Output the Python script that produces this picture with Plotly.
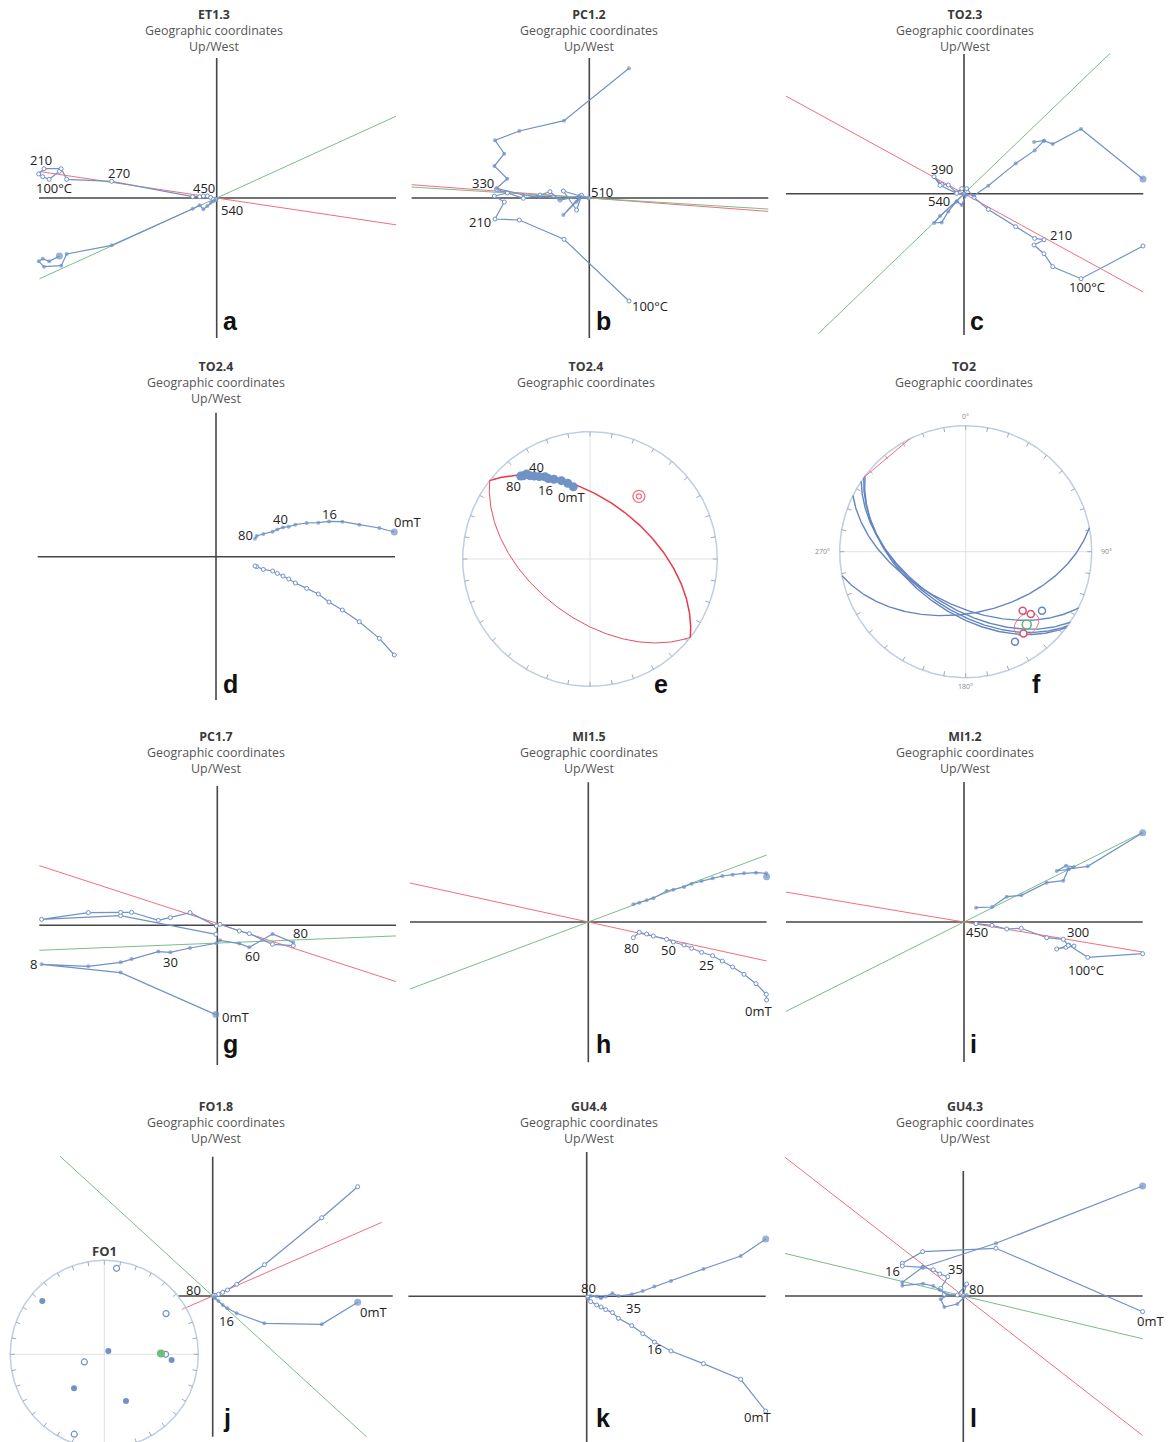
import numpy as np
import plotly.graph_objects as go

W, H = 1170, 1442
FONT = "Open Sans, DejaVu Sans, sans-serif"
BLUE = "rgb(113,146,198)"
RED = "rgb(242,110,124)"
GREEN = "rgb(122,188,136)"
AXIS = "rgb(70,70,70)"
GC_RED = "rgb(232,58,70)"
GC_BLUE = "rgb(100,134,192)"

# ---------------------------------------------------------------------------
# Zijderveld data: one x value per demagnetisation step, shared by the
# horizontal projection (solid symbols) and the vertical projection (open).
# ---------------------------------------------------------------------------

# ET1.3 (thermal)
et13_x = [-157.3, -167.5, -174.0, -178.0, -172.7, -155.5, -150.0, -105.0, -24.0, -17.0, -13.3, -9.3, -6.0, -3.3, -0.7]
et13_hor = [-58.0, -63.3, -60.7, -63.3, -68.7, -67.7, -56.0, -47.3, -10.7, -7.3, -11.3, -8.0, -4.7, -3.3, -1.3]
et13_ver = [26.7, 18.7, 21.3, 24.0, 29.3, 29.3, 18.7, 16.7, 1.3, 1.3, 2.0, 2.0, 0.5, -1.3, -1.3]
et13_fit_ver = (-0.1495, 0.0, (-177.3, 179.3))
et13_fit_hor = (0.456, 0.0, (-177.3, 179.3))

# PC1.2 (thermal)
pc12_x = [39.7, -25.3, -70.0, -94.3, -85.0, -95.0, -82.0, -92.7, -66.0, -49.3, -39.3, -29.3, -9.3, -26.0, -12.7, -7.7, -0.7]
pc12_hor = [129.7, 77.3, 67.0, 57.7, 44.3, 32.0, 19.3, 9.7, 3.0, 1.3, 1.3, -1.3, 1.3, -17.0, -3.7, 0.7, 0.0]
pc12_ver = [-103.0, -41.3, -22.0, -21.0, -4.0, 2.0, 5.0, 8.7, -0.3, 3.0, 6.3, -2.0, 2.0, 7.0, -12.0, 2.7, 0.0]
pc12_fit_ver = (-0.0748, 0.0, (-177.7, 179.0))
pc12_fit_hor = (-0.0617, 0.0, (-177.7, 179.0))

# TO2.3 (thermal)
to23_x = [179.0, 117.0, 88.7, 80.0, 70.0, 80.0, 70.7, 51.7, 24.3, 10.0, 2.7, -2.3, -7.3, -15.7, -22.3, -30.0, -24.0, -7.3, 0.0]
to23_hor = [14.7, 64.7, 49.7, 53.0, 51.7, 53.0, 43.3, 30.3, 8.0, -1.7, -0.7, -11.3, -7.7, -17.7, -28.7, -29.3, -22.3, -7.7, -0.5]
to23_ver = [-52.3, -85.0, -73.0, -60.0, -51.3, -46.0, -44.7, -33.0, -15.7, -3.7, 5.0, 5.0, 1.0, 8.7, 9.3, 17.0, 8.3, 0.3, -0.3]
to23_fit_ver = (-0.5485, 0.0, (-178.0, 179.3))
to23_fit_hor = (0.961, 0.0, (-145.7, 146.0))

# TO2.4 (alternating field)
to24_x = [178.3, 163.3, 143.3, 126.3, 113.0, 102.3, 90.7, 79.3, 72.7, 67.0, 61.3, 56.7, 47.3, 40.7, 39.0]
to24_hor = [24.7, 28.7, 32.0, 35.0, 35.3, 34.0, 33.7, 32.0, 30.0, 29.3, 27.3, 25.0, 22.7, 20.7, 18.0]
to24_ver = [-98.3, -81.7, -65.0, -53.3, -45.3, -37.3, -31.7, -26.3, -22.3, -19.3, -16.7, -14.3, -12.7, -10.0, -9.3]

# PC1.7 (alternating field)
pc17_x = [-1.5, -96.7, -175.7, -129.0, -96.7, -85.7, -59.0, -47.0, -27.3, -1.0, 2.7, 22.0, 32.0, 55.3, 76.0]
pc17_hor = [-89.3, -47.3, -39.0, -41.0, -37.0, -33.7, -26.3, -27.0, -22.7, -18.0, -15.0, -18.3, -22.0, -8.7, -17.3]
pc17_ver = [-9.0, 9.7, 6.0, 12.7, 13.0, 13.0, 5.0, 7.7, 12.7, -0.7, 1.0, -5.7, -8.3, -19.0, -20.3]
pc17_fit_ver = (-0.325, 1.8, (-178.0, 178.7))
pc17_fit_hor = (0.0402, -17.8, (-178.0, 178.7))

# MI1.5 (alternating field)
mi15_x = [178.3, 178.0, 167.7, 155.7, 144.3, 134.0, 124.3, 113.3, 103.3, 95.7, 85.0, 78.3, 65.0, 58.3, 51.0, 45.0]
mi15_hor = [45.3, 48.7, 49.3, 48.7, 47.3, 46.0, 43.7, 41.0, 38.3, 35.0, 32.3, 31.0, 23.7, 21.7, 19.3, 17.7]
mi15_ver = [-78.0, -72.3, -61.7, -52.3, -45.0, -39.0, -33.7, -30.3, -26.3, -23.0, -20.0, -17.3, -14.0, -12.0, -10.3, -15.7]
mi15_fit_ver = (-0.2187, 0.0, (-178.3, 178.3))
mi15_fit_hor = (0.3757, 0.0, (-178.3, 178.3))

# MI1.2 (thermal)
mi12_x = [178.7, 123.7, 104.7, 110.0, 102.0, 92.7, 104.3, 99.3, 82.7, 57.3, 42.7, 28.0, 12.0]
mi12_hor = [89.3, 55.7, 53.0, 55.0, 56.3, 51.0, 52.7, 41.3, 39.3, 26.7, 25.3, 15.0, 14.3]
mi12_ver = [-31.7, -35.3, -23.0, -24.0, -25.3, -27.0, -23.5, -17.3, -15.7, -6.3, -7.0, -3.3, -1.7]
mi12_fit_ver = (-0.168, 0.0, (-178.0, 178.7))
mi12_fit_hor = (0.502, 0.0, (-178.0, 178.7))

# FO1.8 (alternating field)
fo18_x = [145.0, 109.0, 51.7, 24.0, 14.7, 10.0, 5.7, 2.3, 0.7]
fo18_hor = [-6.3, -28.3, -27.3, -17.3, -12.3, -9.0, -5.0, -2.3, -0.7]
fo18_ver = [109.3, 78.3, 31.3, 11.7, 6.0, 3.7, 1.7, 0.7, 0.3]
fo18_fit_ver = (0.4356, 0.0, (-27.7, 169.0))
fo18_fit_hor = (-0.915, 0.0, (-152.7, 154.0))

# GU4.4 (alternating field)
gu44_x = [179.0, 154.0, 116.7, 84.3, 67.7, 56.0, 45.0, 31.7, 25.7, 19.0, 14.3, 10.0, 4.0, 1.0]
gu44_hor = [57.3, 40.3, 27.3, 15.3, 9.7, 5.3, 2.0, 0.3, 3.0, -0.3, -2.0, -0.3, 0.3, -2.7]
gu44_ver = [-114.7, -83.0, -67.3, -54.7, -45.7, -37.3, -29.3, -22.0, -16.3, -13.3, -10.7, -8.7, -5.3, -0.7]

# GU4.3 (alternating field)
gu43_x = [179.3, 32.7, -40.7, -61.0, -61.0, -40.3, -30.0, -23.5, -15.5, -22.5, -19.0, -6.0, 3.3, 0.0]
gu43_hor = [110.0, 52.7, 28.7, 13.7, 10.3, 12.3, 10.0, 6.0, 1.0, -3.3, -11.0, -8.0, 1.0, -0.7]
gu43_ver = [-15.7, 47.7, 44.3, 32.7, 30.0, 28.7, 26.3, 22.0, 19.3, 7.7, 1.7, 1.0, 12.0, 0.3]
gu43_fit_ver = (-0.778, 0.0, (-178.3, 179.3))
gu43_fit_hor = (-0.2386, 0.0, (-178.3, 179.3))

# ---------------------------------------------------------------------------
# Directional data (declination, inclination in degrees; negative = upper)
# ---------------------------------------------------------------------------
to24_dir_dec = [320.1, 321.3, 323.3, 324.2, 326.1, 328.4, 331.3, 332.6, 335.7, 339.9, 343.6, 347.0]
to24_dir_inc = [16.2, 17.3, 17.8, 20.4, 22.6, 25.0, 27.2, 29.6, 31.8, 34.8, 38.0, 41.4]
to24_gc_pole = (38.0, -37.6)

to2_gc_pole_dec = [34.0, 36.0, 37.0, 26.5, 349.0]
to2_gc_pole_inc = [36.0, 37.5, 39.0, 35.0, 40.5]
to2_mean = (140.0, -25.6)
to2_a95 = 7.5
to2_red_dec = [136.0, 133.8, 144.8]
to2_red_inc = [-35.2, -29.2, -21.6]
to2_blue_dec = [127.8, 151.3]
to2_blue_inc = [-24.4, -19.6]
to2_red_chord_dec = [306.2, 333.8]
to2_red_chord_inc = [0.0, 0.0]

fo1_dec = [8.1, 310.7, 56.6, 50.5, 90.0, 94.8, 249.0, 221.7, 155.1, 200.6]
fo1_inc = [-8.4, 14.1, -22.4, 85.5, -35.1, 28.9, -71.5, 50.0, 44.4, -10.1]
fo1_mean = (89.3, 39.5)

# ---------------------------------------------------------------------------
# helpers
# ---------------------------------------------------------------------------
fig = go.Figure()
_axis_no = [0]


def add_axes(cx, cy, scale, xr, yr):
    """Create an x/y axis pair whose unit maps to `scale` pixels, origin at (cx, cy)."""
    _axis_no[0] += 1
    n = _axis_no[0]
    key = "" if n == 1 else str(n)
    x0 = max(0.0, (cx + xr[0] * scale) / W)
    x1 = min(1.0, (cx + xr[1] * scale) / W)
    y0 = max(0.0, 1 - (cy - yr[0] * scale) / H)
    y1 = min(1.0, 1 - (cy - yr[1] * scale) / H)
    common = dict(visible=False, showgrid=False, zeroline=False, fixedrange=True)
    fig.update_layout(**{
        "xaxis" + key: dict(domain=[x0, x1], range=list(xr), anchor="y" + key, **common),
        "yaxis" + key: dict(domain=[y0, y1], range=list(yr), anchor="x" + key, **common),
    })
    return "x" + key, "y" + key


def line(xa, ya, x, y, color, width, dash=None):
    fig.add_trace(go.Scatter(x=list(x), y=list(y), mode="lines", xaxis=xa, yaxis=ya,
                             line=dict(color=color, width=width, dash=dash),
                             hoverinfo="skip"))


def paper_text(x, y, s, size=13, color="#333", bold=False, xanchor="center",
               yanchor="middle", family=FONT):
    fig.add_annotation(x=x / W, y=1 - y / H, xref="paper", yref="paper",
                       text=f"<b>{s}</b>" if bold else s, showarrow=False,
                       xanchor=xanchor, yanchor=yanchor,
                       font=dict(size=size, color=color, family=family))


def axis_text(xa, ya, x, y, s, size=13, color="#222"):
    fig.add_annotation(x=x, y=y, xref=xa, yref=ya, text=s, showarrow=False,
                       xanchor="center", yanchor="middle",
                       font=dict(size=size, color=color, family=FONT))


def draw_zijderveld(origin, arms, xs, hor, ver, fits, labels, big_first=True):
    cx, cy = origin
    L, R, U, D = arms
    xa, ya = add_axes(cx, cy, 1.0, (-196, 200), (max(-152, -(H - cy)), 152))
    line(xa, ya, [-L, R], [0, 0], AXIS, 1.6)
    line(xa, ya, [0, 0], [-D, U], AXIS, 1.6)
    for fit, color in fits:
        slope, icpt, xr = fit
        xx = np.array(xr)
        line(xa, ya, xx, icpt + slope * xx, color, 1.0)
    n = len(xs)
    sizes = [7 if (i == 0 and big_first) else 4 for i in range(n)]
    fig.add_trace(go.Scatter(x=xs, y=ver, mode="lines+markers", xaxis=xa, yaxis=ya,
                             line=dict(color=BLUE, width=1.2),
                             marker=dict(size=4, color="white", line=dict(color=BLUE, width=1)),
                             hoverinfo="skip"))
    fig.add_trace(go.Scatter(x=xs, y=hor, mode="lines+markers", xaxis=xa, yaxis=ya,
                             line=dict(color=BLUE, width=1.2),
                             marker=dict(size=sizes, color=BLUE, line=dict(width=0)),
                             hoverinfo="skip"))
    for s, x, y in labels:
        axis_text(xa, ya, x, y, s)


def dir2cart(dec, inc):
    d, i = np.radians(dec), np.radians(inc)
    return np.array([np.cos(i) * np.cos(d), np.cos(i) * np.sin(d), np.sin(i)])


def cart2dir(v):
    v = np.atleast_2d(v)
    dec = np.degrees(np.arctan2(v[:, 1], v[:, 0])) % 360
    inc = np.degrees(np.arcsin(np.clip(v[:, 2] / np.linalg.norm(v, axis=1), -1, 1)))
    return dec, inc


def equal_area(dec, inc):
    d = np.radians(np.asarray(dec, float))
    i = np.radians(np.abs(np.asarray(inc, float)))
    r = np.sqrt(2) * np.sin((np.pi / 2 - i) / 2)
    return r * np.sin(d), r * np.cos(d)


def perp_basis(v):
    ref = np.array([0.0, 0.0, 1.0]) if abs(v[2]) < 0.99 else np.array([1.0, 0.0, 0.0])
    a = np.cross(v, ref)
    a /= np.linalg.norm(a)
    b = np.cross(v, a)
    b /= np.linalg.norm(b)
    return a, b


def great_circle(pole_dec, pole_inc, n=181):
    """Lower- and upper-hemisphere halves of the plane normal to the pole."""
    p = dir2cart(pole_dec, pole_inc)
    a, b = perp_basis(p)
    if b[2] < 0:
        b = -b
    t = np.linspace(0, np.pi, n)
    lower = np.outer(np.cos(t), a) + np.outer(np.sin(t), b)
    upper = np.outer(np.cos(t), a) - np.outer(np.sin(t), b)
    return equal_area(*cart2dir(lower)), equal_area(*cart2dir(upper))


def small_circle(dec, inc, radius, n=121):
    m = dir2cart(dec, inc)
    a, b = perp_basis(m)
    t = np.linspace(0, 2 * np.pi, n)
    r = np.radians(radius)
    v = np.cos(r) * m + np.sin(r) * (np.outer(np.cos(t), a) + np.outer(np.sin(t), b))
    return equal_area(*cart2dir(v))


def stereonet(center, radius, extent=(-1.1, 1.1, -1.1, 1.1)):
    cx, cy = center
    xa, ya = add_axes(cx, cy, radius, extent[:2], extent[2:])
    line(xa, ya, [-1, 1], [0, 0], "rgb(222,224,228)", 1)
    line(xa, ya, [0, 0], [-1, 1], "rgb(222,224,228)", 1)
    t = np.linspace(0, 2 * np.pi, 361)
    line(xa, ya, np.sin(t), np.cos(t), "rgb(192,206,224)", 1.5)
    tl = 4.5 / radius
    tx, ty = [], []
    for az in range(0, 360, 10):
        s, c = np.sin(np.radians(az)), np.cos(np.radians(az))
        tx += [s, s * (1 - tl), None]
        ty += [c, c * (1 - tl), None]
    line(xa, ya, tx, ty, "rgb(160,170,186)", 1)
    return xa, ya


# ---------------------------------------------------------------------------
# titles and panel letters
# ---------------------------------------------------------------------------
titles = [
    ("ET1.3", 214, 15, True), ("PC1.2", 589, 15, True), ("TO2.3", 965, 15, True),
    ("TO2.4", 216, 367, True), ("TO2.4", 586, 367, False), ("TO2", 964, 367, False),
    ("PC1.7", 216, 737, True), ("MI1.5", 589, 737, True), ("MI1.2", 965, 737, True),
    ("FO1.8", 216, 1107, True), ("GU4.4", 589, 1107, True), ("GU4.3", 965, 1107, True),
]
for name, x, y, updown in titles:
    block = (f"<span style='color:#3a3a3a'><b>{name}</b></span><br>"
             "<span style='color:#555'>Geographic coordinates</span>")
    if updown:
        block += "<br><span style='color:#555'>Up/West</span>"
    fig.add_annotation(x=x / W, y=1 - (y - 10) / H, xref="paper", yref="paper",
                       text=block, showarrow=False, xanchor="center", yanchor="top",
                       align="center", borderpad=0,
                       font=dict(size=12.4, family=FONT))

letters = [("a", 221, 321), ("b", 594, 321), ("c", 968, 321),
           ("d", 221, 684), ("e", 652, 684), ("f", 1030, 684),
           ("g", 221, 1044), ("h", 594, 1044), ("i", 968, 1044),
           ("j", 221, 1418), ("k", 594, 1418), ("l", 968, 1418)]
for s, x, y in letters:
    paper_text(x, y, s, size=25, color="#111", bold=True, xanchor="left",
               family="Liberation Sans, Arial, sans-serif")

# ---------------------------------------------------------------------------
# Zijderveld panels
# ---------------------------------------------------------------------------
draw_zijderveld((216.7, 198.0), (177.7, 179.3, 140, 140), et13_x, et13_hor, et13_ver,
                [(et13_fit_ver, RED), (et13_fit_hor, GREEN)],
                [("210", -176, 38), ("270", -98, 25.3), ("100°C", -162.7, 10.3),
                 ("450", -13, 10.3), ("540", 15.7, -12)])

draw_zijderveld((589.3, 198.0), (177.7, 179.0, 140, 140), pc12_x, pc12_hor, pc12_ver,
                [(pc12_fit_ver, RED), (pc12_fit_hor, GREEN)],
                [("330", -106.7, 15.3), ("210", -109.3, -23.7), ("510", 12.3, 6),
                 ("100°C", 60.7, -108)], big_first=False)

draw_zijderveld((964.0, 193.7), (178.0, 179.3, 139.7, 141.3), to23_x, to23_hor, to23_ver,
                [(to23_fit_ver, RED), (to23_fit_hor, GREEN)],
                [("390", -21.7, 24.3), ("540", -24.7, -7.7), ("210", 97, -41.7),
                 ("100°C", 122.7, -93)])

draw_zijderveld((216.0, 556.7), (178.3, 179.0, 144, 143.3), to24_x, to24_hor, to24_ver,
                [],
                [("80", 29, 21.7), ("40", 64.7, 38), ("16", 113, 43), ("0mT", 191.3, 34.7)])

draw_zijderveld((217.3, 925.3), (178.0, 178.7, 139.3, 139.7), pc17_x, pc17_hor, pc17_ver,
                [(pc17_fit_ver, RED), (pc17_fit_hor, GREEN)],
                [("8", -184, -39), ("30", -46.7, -37), ("60", 35, -30.3),
                 ("80", 83.3, -8), ("0mT", 17.7, -92)])

draw_zijderveld((588.3, 922.0), (178.3, 178.3, 139.7, 140.3), mi15_x, mi15_hor, mi15_ver,
                [(mi15_fit_ver, RED), (mi15_fit_hor, GREEN)],
                [("80", 43.3, -25.7), ("50", 80, -28), ("25", 118.3, -43), ("0mT", 170, -89)])

draw_zijderveld((964.0, 922.0), (178.0, 178.7, 140, 140), mi12_x, mi12_hor, mi12_ver,
                [(mi12_fit_ver, RED), (mi12_fit_hor, GREEN)],
                [("450", 13.3, -10.3), ("300", 113.7, -10.3), ("100°C", 122, -48)])

draw_zijderveld((212.7, 1296.0), (34.4, 180.0, 139.3, 140.7), fo18_x, fo18_hor, fo18_ver,
                [(fo18_fit_ver, RED), (fo18_fit_hor, GREEN)],
                [("80", -19.3, 6), ("16", 14, -25), ("0mT", 160.7, -15.7)])

draw_zijderveld((586.7, 1296.3), (178.3, 179.0, 144.3, 145.7), gu44_x, gu44_hor, gu44_ver,
                [],
                [("80", 1.7, 8), ("35", 46.7, -12), ("16", 67.3, -53), ("0mT", 170.7, -120.3)])

draw_zijderveld((963.3, 1296.0), (178.3, 179.3, 125, 146), gu43_x, gu43_hor, gu43_ver,
                [(gu43_fit_ver, RED), (gu43_fit_hor, GREEN)],
                [("16", -71, 25), ("35", -8.3, 27), ("80", 12.7, 7), ("0mT", 186.7, -25)])

# ---------------------------------------------------------------------------
# e: TO2.4 equal-area projection with remagnetisation great circle
# ---------------------------------------------------------------------------
xa, ya = stereonet((590.0, 559.0), 127.3)
(lx, ly), (ux, uy) = great_circle(*to24_gc_pole)
line(xa, ya, ux, uy, GC_RED, 0.9)
line(xa, ya, lx, ly, GC_RED, 1.5)
px, py = equal_area(*to24_gc_pole)
fig.add_trace(go.Scatter(x=[px, px], y=[py, py], mode="markers", xaxis=xa, yaxis=ya,
                         marker=dict(size=[12, 5], color="rgba(0,0,0,0)",
                                     line=dict(color=GC_RED, width=1.3)), hoverinfo="skip"))
ex, ey = equal_area(to24_dir_dec, to24_dir_inc)
fig.add_trace(go.Scatter(x=ex, y=ey, mode="markers", xaxis=xa, yaxis=ya,
                         marker=dict(size=9, color=BLUE, line=dict(width=0)), hoverinfo="skip"))
for s, x, y in [("40", -0.424, 0.721), ("80", -0.598, 0.576), ("16", -0.353, 0.542),
                ("0mT", -0.149, 0.488)]:
    axis_text(xa, ya, x, y, s)

# ---------------------------------------------------------------------------
# f: TO2 site — great circles, set points and mean with a95
# ---------------------------------------------------------------------------
xa, ya = stereonet((965.7, 551.7), 126.0, (-1.2, 1.2, -1.2, 1.2))
for s, x, y in [("0°", 0, 1.071), ("90°", 1.119, 0), ("180°", 0, -1.066), ("270°", -1.138, 0)]:
    axis_text(xa, ya, x, y, s, size=7, color="#8a8a8a")
for pd_, pi_ in zip(to2_gc_pole_dec, to2_gc_pole_inc):
    (lx, ly), _ = great_circle(pd_, pi_)
    line(xa, ya, lx, ly, GC_BLUE, 1.4)
cx_, cy_ = equal_area(to2_red_chord_dec, to2_red_chord_inc)
line(xa, ya, cx_, cy_, RED, 1.0)
sx, sy = small_circle(to2_mean[0], abs(to2_mean[1]), to2_a95)
line(xa, ya, sx, sy, RED, 1.0)
for decs, incs, color, size in [(to2_red_dec, to2_red_inc, "rgb(214,84,112)", 7),
                                (to2_blue_dec, to2_blue_inc, GC_BLUE, 7),
                                ([to2_mean[0]], [to2_mean[1]], "rgb(96,180,110)", 9)]:
    qx, qy = equal_area(decs, incs)
    fig.add_trace(go.Scatter(x=qx, y=qy, mode="markers", xaxis=xa, yaxis=ya,
                             marker=dict(size=size, color="white", line=dict(color=color, width=1.5)),
                             hoverinfo="skip"))

# ---------------------------------------------------------------------------
# j inset: FO1 site directions
# ---------------------------------------------------------------------------
fo_center, fo_r = (104.3, 1354.3), 94.0
xa, ya = stereonet(fo_center, fo_r, (-1.08, 1.08, -(H - fo_center[1]) / fo_r, 1.08))
fx, fy = equal_area(fo1_dec, fo1_inc)
lower = np.array(fo1_inc) >= 0
fig.add_trace(go.Scatter(x=fx[~lower], y=fy[~lower], mode="markers", xaxis=xa, yaxis=ya,
                         marker=dict(size=6, color="white", line=dict(color=BLUE, width=1.2)),
                         hoverinfo="skip"))
fig.add_trace(go.Scatter(x=fx[lower], y=fy[lower], mode="markers", xaxis=xa, yaxis=ya,
                         marker=dict(size=6, color=BLUE, line=dict(width=0)), hoverinfo="skip"))
mx, my = equal_area([fo1_mean[0]], [fo1_mean[1]])
fig.add_trace(go.Scatter(x=mx, y=my, mode="markers", xaxis=xa, yaxis=ya,
                         marker=dict(size=8, color="rgb(110,190,120)", line=dict(width=0)),
                         hoverinfo="skip"))
paper_text(104.3, 1251, "FO1", size=13, color="#3a3a3a", bold=True)

fig.update_layout(width=W, height=H, margin=dict(l=0, r=0, t=0, b=0),
                  paper_bgcolor="white", plot_bgcolor="rgba(0,0,0,0)",
                  showlegend=False, font=dict(family=FONT))
fig.write_html("out.html")
